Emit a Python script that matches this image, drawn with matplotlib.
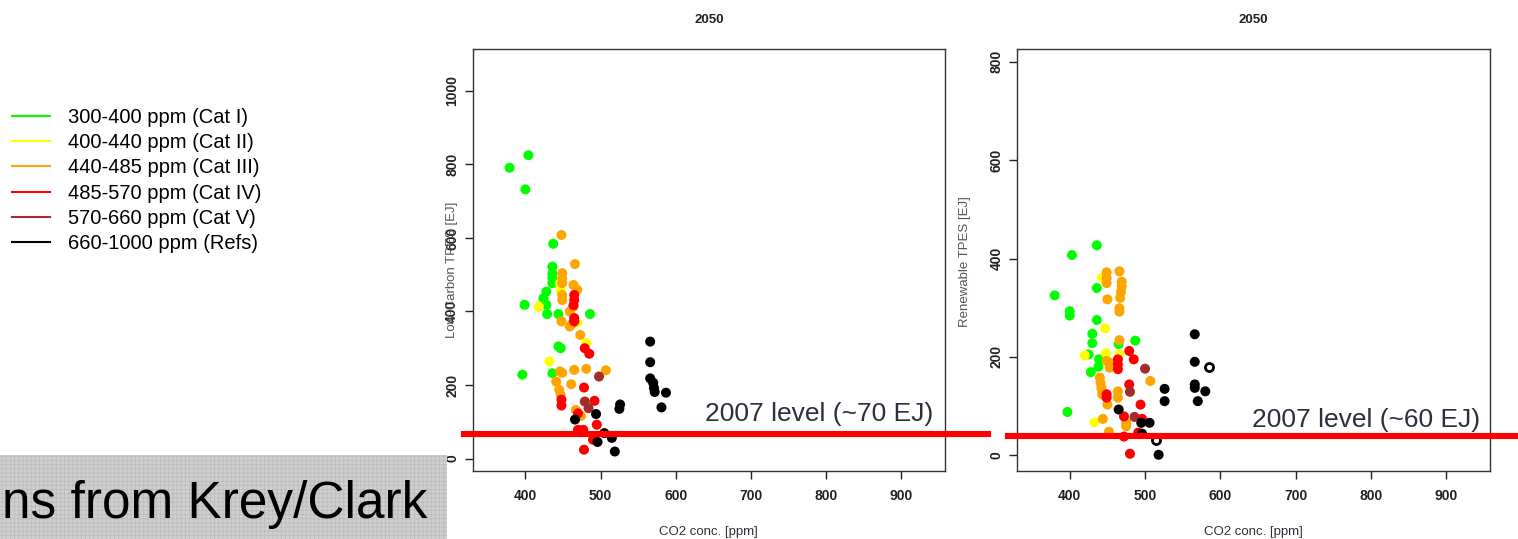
import matplotlib
matplotlib.use("Agg")
import matplotlib.pyplot as plt
from matplotlib.lines import Line2D
from matplotlib.patches import Rectangle

plt.rcParams['font.family'] = ['Liberation Sans', 'DejaVu Sans']
plt.rcParams['hatch.linewidth'] = 0.6

# ---------------- data ----------------
categories = ["300-400 ppm (Cat I)", "400-440 ppm (Cat II)", "440-485 ppm (Cat III)",
              "485-570 ppm (Cat IV)", "570-660 ppm (Cat V)", "660-1000 ppm (Refs)"]
cat_colors = ["#00ff00", "#ffff00", "#ffa500", "#ff0000", "#a52a2a", "#000000"]

# Left panel: Low-Carbon TPES [EJ] vs CO2 conc. [ppm] (2050)
lc_green_x = [379, 404, 400, 437, 436, 436, 436, 436, 428, 424, 399, 428, 429, 444, 486, 444, 447, 396, 436]
lc_green_y = [791, 825, 732, 584, 522, 504, 490, 477, 454, 436, 418, 418, 393, 393, 393, 305, 300, 228, 232]
lc_yellow_x = [446, 447, 418, 469, 481, 432]
lc_yellow_y = [477, 457, 413, 370, 314, 264]
lc_orange_x = [448, 466, 449, 449, 449, 464, 469, 449, 449, 464, 459, 448, 459, 473, 446, 449, 465, 481,
               507, 441, 461, 445, 447, 467, 474, 462]
lc_orange_y = [608, 529, 504, 490, 477, 472, 459, 445, 431, 413, 400, 373, 359, 336, 237, 233, 241, 244,
               240, 209, 202, 187, 173, 132, 116, 366]
lc_red_x = [465, 465, 464, 465, 465, 479, 485, 478, 448, 448, 492, 470, 495, 470, 477, 490, 478]
lc_red_y = [445, 431, 417, 382, 373, 300, 285, 193, 160, 144, 157, 123, 92, 78, 78, 51, 24]
lc_brown_x = [498, 479, 484]
lc_brown_y = [223, 155, 137]
lc_black_x = [566, 566, 566, 570, 571, 572, 587, 581, 526, 525, 494, 466, 505, 515, 496, 519]
lc_black_y = [318, 262, 218, 206, 192, 181, 179, 139, 147, 135, 121, 106, 69, 56, 45, 19]

# Right panel: Renewable TPES [EJ] vs CO2 conc. [ppm] (2050)
re_green_x = [436, 403, 380, 400, 400, 436, 436, 430, 430, 487, 465, 425, 439, 438, 428, 397]
re_green_y = [427, 407, 325, 293, 284, 340, 275, 247, 228, 233, 226, 205, 195, 180, 169, 88]
re_yellow_x = [443, 447, 420, 448, 466, 433]
re_yellow_y = [361, 258, 203, 207, 205, 67]
re_orange_x = [449, 449, 449, 466, 469, 469, 468, 467, 450, 466, 466, 466, 453, 453, 449, 440, 441, 442,
               443, 450, 464, 464, 507, 444, 475, 475, 452]
re_orange_y = [372, 360, 350, 374, 353, 343, 332, 320, 317, 299, 292, 234, 188, 178, 192, 158, 147, 137,
               124, 103, 130, 117, 151, 74, 66, 59, 48]
re_red_x = [464, 464, 464, 479, 485, 449, 449, 479, 494, 472, 496, 472, 491, 480]
re_red_y = [195, 185, 175, 212, 195, 124, 117, 144, 103, 79, 74, 38, 46, 3]
re_brown_x = [500, 480, 486]
re_brown_y = [176, 129, 78]
re_black_x = [566, 566, 566, 566, 580, 570, 526, 526, 465, 495, 506, 496, 518]
re_black_y = [246, 190, 144, 137, 130, 110, 135, 110, 93, 66, 66, 44, 1]
re_black_open_x = [585, 515]
re_black_open_y = [180, 31]

x_ticks = [400, 500, 600, 700, 800, 900]
lc_yticks = [0, 200, 400, 600, 800, 1000]
re_yticks = [0, 200, 400, 600, 800]
level_lc = 66
level_re = 39

# ---------------- figure ----------------
W, H = 1518, 539
fig = plt.figure(figsize=(W / 100, H / 100), dpi=100)

def px_axes(left, right, top, bottom):
    return fig.add_axes([left / W, 1 - bottom / H, (right - left) / W, (bottom - top) / H])

axL = px_axes(472.7, 945, 49, 471)
axR = px_axes(1017, 1490, 49, 471)

txtc = "#30303c"
ms = 52

def style(ax, ylim, yticks):
    ax.set_xlim(330, 958)
    ax.set_ylim(*ylim)
    ax.set_xticks(x_ticks)
    ax.set_yticks(yticks)
    ax.set_xticklabels([str(v) for v in x_ticks], fontweight='bold', fontsize=10)
    ax.set_yticklabels([str(v) for v in yticks], fontweight='bold', fontsize=10,
                       rotation=90, va='center')
    ax.tick_params(axis='x', length=5.8, width=1.0, pad=7.5, colors='#222222')
    ax.tick_params(axis='y', length=5.8, width=1.0, pad=4.0, colors='#222222')
    for sp in ax.spines.values():
        sp.set_linewidth(1.0)
        sp.set_color('#333333')
    ax.set_title("2050", fontsize=9.5, fontweight='bold', pad=19, color='#222222')
    ax.set_xlabel("CO2 conc. [ppm]", fontsize=9.5, color=txtc, labelpad=16)

def scatter_all(ax, xs, ys):
    for x, y, c in zip(xs, ys, cat_colors):
        ax.scatter(x, y, s=ms, c=c, edgecolors='none', zorder=3)

scatter_all(axL, [lc_green_x, lc_yellow_x, lc_orange_x, lc_red_x, lc_brown_x, lc_black_x],
            [lc_green_y, lc_yellow_y, lc_orange_y, lc_red_y, lc_brown_y, lc_black_y])
scatter_all(axR, [re_green_x, re_yellow_x, re_orange_x, re_red_x, re_brown_x, re_black_x],
            [re_green_y, re_yellow_y, re_orange_y, re_red_y, re_brown_y, re_black_y])
axR.scatter(re_black_open_x, re_black_open_y, s=34, facecolors='white', edgecolors='black',
            linewidths=2.0, zorder=3)

style(axL, (-34, 1114), lc_yticks)
style(axR, (-32, 826), re_yticks)

# y labels
fig.text(452 / W, 1 - 270 / H, "Low-Carbon TPES [EJ]", rotation=90, ha='center', va='center',
         fontsize=9.5, color='#5a5060')
fig.text(965 / W, 1 - 262 / H, "Renewable TPES [EJ]", rotation=90, ha='center', va='center',
         fontsize=9.5, color='#5a5060')

# 2007 level lines
axL.axhline(level_lc, xmin=-0.0184, xmax=1.091, color='#ff0000', lw=4.4, clip_on=False, zorder=4)
axR.axhline(level_re, xmin=-0.019, xmax=1.06, color='#ff0000', lw=4.4, clip_on=False, zorder=4)
axL.text(943, 122, "2007 level (~70 EJ)", ha='right', va='center', fontsize=19, color='#2e2e3e', zorder=5)
axR.text(944.6, 72, "2007 level (~60 EJ)", ha='right', va='center', fontsize=19, color='#2e2e3e', zorder=5)

# legend
handles = [Line2D([], [], color=c, lw=1.5) for c in cat_colors]
fig.legend(handles, categories, loc='upper left', bbox_to_anchor=(12 / W, 1 - 108 / H),
           frameon=False, fontsize=14.5, handlelength=1.9, handletextpad=0.9,
           labelspacing=0.31, borderpad=0, borderaxespad=0)

# grey caption box at bottom-left
fig.add_artist(Rectangle((0, 0), 447 / W, (539 - 455) / H, transform=fig.transFigure,
                         facecolor='#cfcfcf', edgecolor='#bcbcbc', hatch='++++', lw=0,
                         zorder=10))
fig.text(427 / W, 1 - 518 / H, "ns from Krey/Clark", ha='right', va='baseline',
         fontsize=37, color='#000000', zorder=11)

fig.savefig("out.png", dpi=100)
